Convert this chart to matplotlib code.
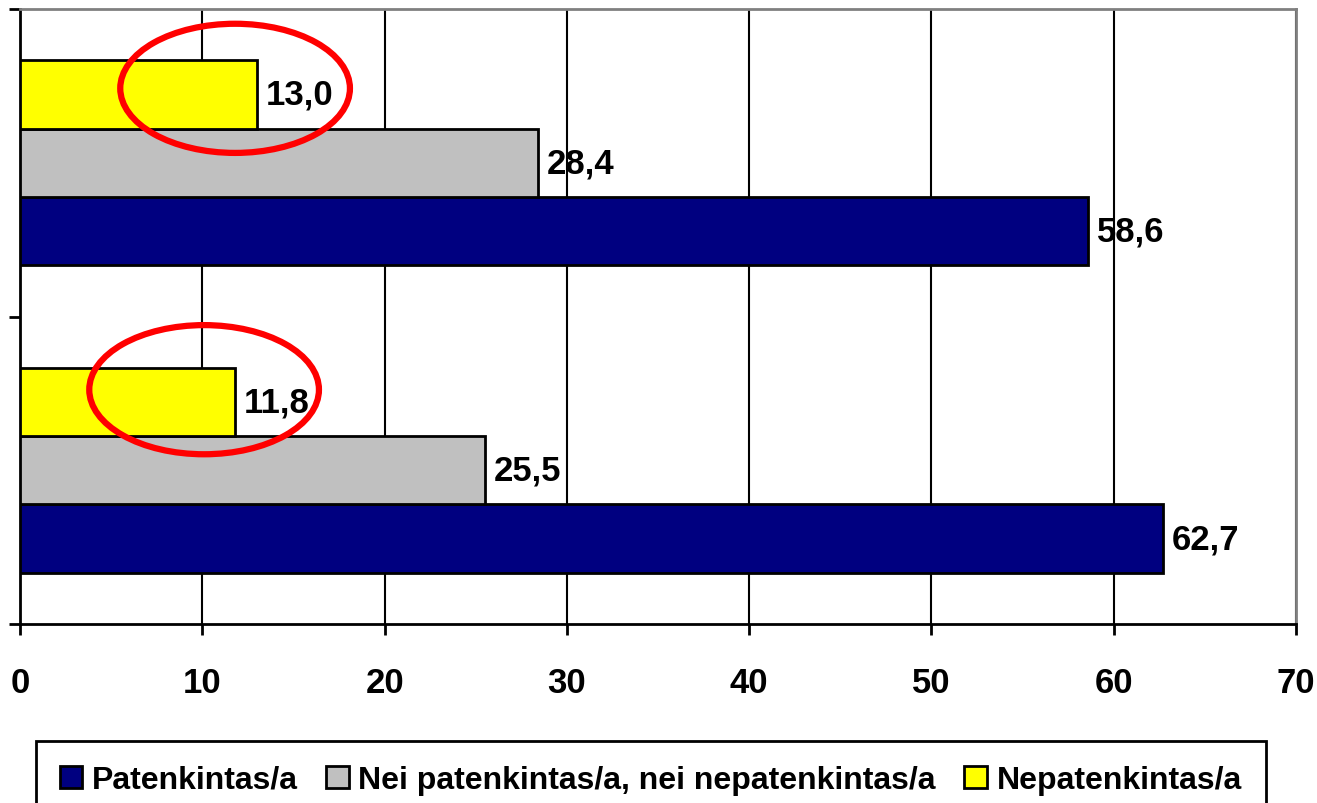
import numpy as np
import matplotlib
matplotlib.use("Agg")
import matplotlib.pyplot as plt
from matplotlib.patches import Ellipse

# data
groups = ["A", "B"]  # bottom, top (no labels shown)
series = ["Patenkintas/a", "Nei patenkintas/a, nei nepatenkintas/a", "Nepatenkintas/a"]
patenkintas = [62.7, 58.6]
nei = [25.5, 28.4]
nepatenkintas = [11.8, 13.0]
colors = ["#000080", "#C0C0C0", "#FFFF00"]

plt.rcParams["font.family"] = ["Liberation Sans", "DejaVu Sans"]
plt.rcParams["font.weight"] = "bold"

fig = plt.figure(figsize=(13.17, 8.04), dpi=100)
ax = fig.add_axes([20 / 1317, 1 - 625 / 804, 1276 / 1317, 615 / 804])

y = np.arange(len(groups))
h = 0.222
for i, vals in enumerate([patenkintas, nei, nepatenkintas]):
    pos = y + (i - 1) * h
    ax.barh(pos, vals, height=h, color=colors[i], edgecolor="black",
            linewidth=2, label=series[i], zorder=3)
    for p, v in zip(pos, vals):
        ax.text(v + 0.5, p, f"{v:.1f}".replace(".", ","), va="center",
                ha="left", fontsize=25, fontweight="bold", zorder=4)

# red circles around the yellow bars
for yy, cx, dy in zip(y + h, [10.1, 11.8], [0.04, 0.02]):
    ax.add_patch(Ellipse((cx, yy + dy), 12.6, 0.42, fill=False,
                         edgecolor="#FF0000", linewidth=4.5, zorder=5))

ax.set_xlim(0, 70)
ax.set_ylim(-0.5, 1.5)
ax.set_xticks(np.arange(0, 71, 10))
ax.set_yticks([-0.5, 0.5, 1.5])
ax.set_yticklabels([])
ax.tick_params(axis="x", length=8, width=2, labelsize=25, pad=22)
ax.tick_params(axis="y", length=8, width=2)
ax.grid(axis="x", color="black", linewidth=1.5, zorder=0)
for s in ["left", "bottom"]:
    ax.spines[s].set_linewidth(2)
for s in ["top", "right"]:
    ax.spines[s].set_color("#808080")
    ax.spines[s].set_linewidth(2)

leg = fig.legend(loc="upper center", bbox_to_anchor=(0.494, 1 - 742 / 804),
                 borderaxespad=0, ncol=3, fontsize=23, frameon=True,
                 fancybox=False, edgecolor="black", framealpha=1,
                 handlelength=0.7, handleheight=0.7, handletextpad=0.3,
                 columnspacing=0.9, borderpad=0.75)
leg.get_frame().set_linewidth(2)

fig.savefig("out.png", dpi=100)
